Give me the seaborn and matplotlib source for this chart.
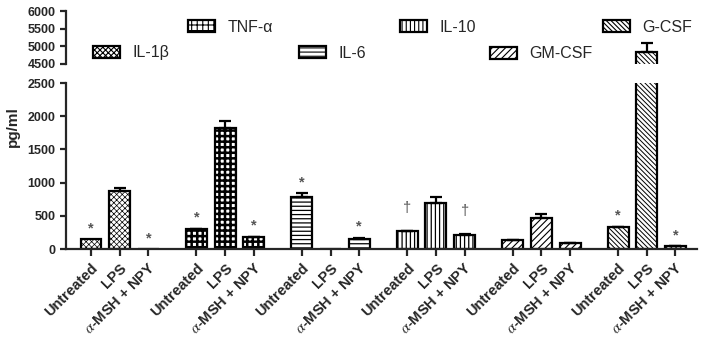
import numpy as np
import pandas as pd
import matplotlib
matplotlib.use("Agg")
import matplotlib.pyplot as plt
from matplotlib.patches import Patch
import seaborn as sns

# cytokine groups and treatments
cytokines = ["IL-1β", "TNF-α", "IL-6", "IL-10", "GM-CSF", "G-CSF"]
treatments = ["Untreated", "LPS", "$\\alpha$-MSH + NPY"]

# pg/ml values (Untreated, LPS, a-MSH + NPY) and upper SEM
il1b = [145, 870, 0]
il1b_err = [0, 55, 0]
tnf = [295, 1815, 175]
tnf_err = [10, 110, 10]
il6 = [785, 0, 155]
il6_err = [55, 0, 15]
il10 = [265, 700, 210]
il10_err = [10, 85, 15]
gmcsf = [135, 470, 85]
gmcsf_err = [5, 50, 5]
gcsf = [325, 4830, 40]
gcsf_err = [10, 260, 5]

# significance marks
il1b_sig = ["*", "", "*"]
tnf_sig = ["*", "", "*"]
il6_sig = ["*", "", "*"]
il10_sig = ["†", "", "†"]
gmcsf_sig = ["", "", ""]
gcsf_sig = ["*", "", "*"]

values = [il1b, tnf, il6, il10, gmcsf, gcsf]
errors = [il1b_err, tnf_err, il6_err, il10_err, gmcsf_err, gcsf_err]
sigs = [il1b_sig, tnf_sig, il6_sig, il10_sig, gmcsf_sig, gcsf_sig]

group_step = 3.67
rows = []
for g, name in enumerate(cytokines):
    for t, tr in enumerate(treatments):
        rows.append({"pos": g * group_step + t, "cytokine": name, "treatment": tr,
                     "value": values[g][t], "err": errors[g][t], "sig": sigs[g][t]})
df = pd.DataFrame(rows)

sns.set_style("ticks")
plt.rcParams["font.family"] = ["Liberation Sans", "DejaVu Sans"]
plt.rcParams["mathtext.fontset"] = "stix"
plt.rcParams["hatch.linewidth"] = 0.8

hatches = {"IL-1β": "xxxxxx", "TNF-α": "+++", "IL-6": "----", "IL-10": "||||",
           "GM-CSF": "/////", "G-CSF": "\\\\\\\\\\\\\\"}
hatch_lw = {"IL-1β": 0.5, "TNF-α": 1.8, "IL-6": 0.9, "IL-10": 0.9,
            "GM-CSF": 0.8, "G-CSF": 0.7}
hatch_col = {"IL-1β": "#555555", "TNF-α": "black", "IL-6": "black", "IL-10": "black",
             "GM-CSF": "#333333", "G-CSF": "#333333"}

fig = plt.figure(figsize=(7.01, 3.41), dpi=100)
left, width = 66 / 701, (697 - 66) / 701
ax_lo = fig.add_axes([left, 1 - 249 / 341, width, (249 - 83) / 341])
ax_hi = fig.add_axes([left, 1 - 64 / 341, width, (64 - 11) / 341])


def style_patch(p, name):
    p.set_hatch(hatches[name])
    if hasattr(p, "set_hatch_linewidth"):
        p.set_hatch_linewidth(hatch_lw[name])
    if hasattr(p, "set_hatchcolor"):
        p.set_hatchcolor(hatch_col[name])


for ax in (ax_lo, ax_hi):
    sns.barplot(data=df, x="pos", y="value", native_scale=True, width=0.73,
                color="white", edgecolor="black", linewidth=1.6, errorbar=None,
                saturation=1, ax=ax)
    for p, name in zip(ax.patches, df["cytokine"]):
        style_patch(p, name)
    e = df[df["err"] > 0]
    ax.errorbar(e["pos"], e["value"], yerr=[np.zeros(len(e)), e["err"]], fmt="none",
                ecolor="black", elinewidth=1.6, capsize=4, capthick=1.6, zorder=1)
    ax.set_xlim(-0.87, 21.1)
    ax.set_xlabel("")
    ax.set_ylabel("")
    for s in ("top", "right"):
        ax.spines[s].set_visible(False)
    ax.spines["left"].set_linewidth(1.6)
    ax.spines["bottom"].set_linewidth(1.6)
    ax.tick_params(axis="both", direction="out", length=4, width=1.6, labelsize=9)

ax_lo.set_ylim(0, 2500)
ax_lo.set_yticks(range(0, 2501, 500))
ax_lo.set_yticklabels([str(v) for v in range(0, 2501, 500)], fontweight="bold")
ax_lo.set_xticks(df["pos"])
ax_lo.set_xticklabels(df["treatment"], rotation=45, ha="right", rotation_mode="anchor",
                      fontweight="bold", fontsize=10.5)
ax_lo.tick_params(axis="x", length=5)

ax_hi.set_ylim(4500, 6000)
ax_hi.set_yticks(range(4500, 6001, 500))
ax_hi.set_yticklabels([str(v) for v in range(4500, 6001, 500)], fontweight="bold")
ax_hi.spines["bottom"].set_visible(False)
ax_hi.set_xticks([])

# significance marks above bars
offsets = {"*": 165, "†": 340}
for _, r in df[df["sig"] != ""].iterrows():
    ax_lo.text(r["pos"], r["value"] + r["err"] + offsets[r["sig"]], r["sig"],
               ha="center", va="center", fontsize=10.5, color="#555555",
               fontweight="bold" if r["sig"] == "*" else "normal")

fig.text(13 / 701, 1 - 127 / 341, "pg/ml", rotation=90, ha="center", va="center",
         fontsize=11, fontweight="bold")

# staggered legend entries
leg_xy = {"IL-1β": (93, 53), "TNF-α": (188, 27), "IL-6": (299, 53),
          "IL-10": (400, 27), "GM-CSF": (490, 54), "G-CSF": (603, 27)}
for name in cytokines:
    h = Patch(facecolor="white", edgecolor="black", linewidth=1.6, label=name)
    style_patch(h, name)
    x, y = leg_xy[name]
    fig.legend(handles=[h], loc="center left", bbox_to_anchor=(x / 701, 1 - y / 341),
               frameon=False, borderpad=0, borderaxespad=0, handlelength=1.7,
               handleheight=0.85, handletextpad=0.75, fontsize=11.5)

fig.savefig("out.png", dpi=100)
